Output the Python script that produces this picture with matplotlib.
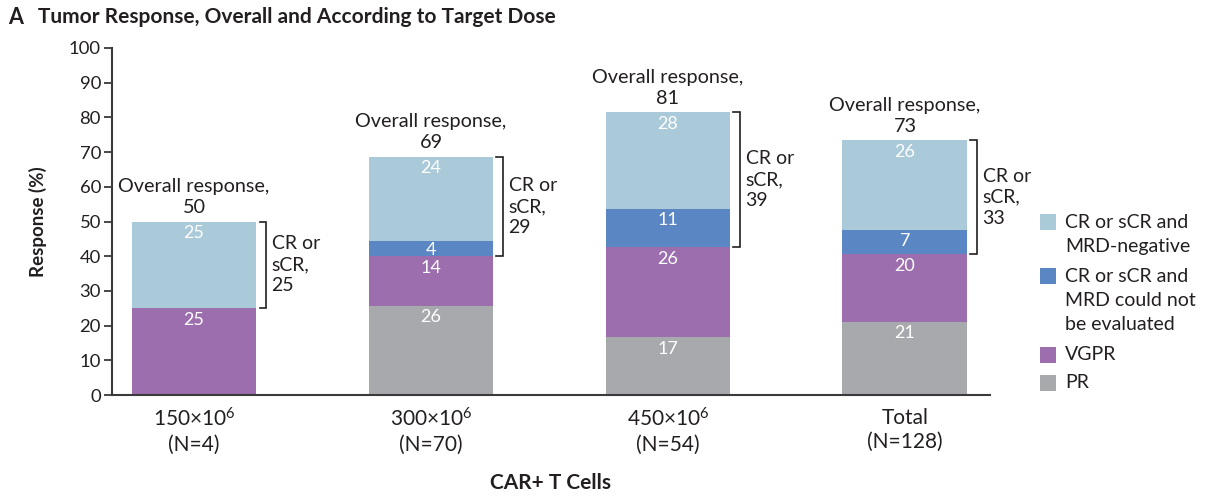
import matplotlib
matplotlib.use("Agg")
import matplotlib.pyplot as plt
from matplotlib.patches import Rectangle
import numpy as np

plt.rcParams['font.family'] = ['Lato', 'DejaVu Sans']
plt.rcParams['mathtext.fontset'] = 'custom'
plt.rcParams['mathtext.rm'] = 'Lato'
plt.rcParams['mathtext.it'] = 'Lato'
plt.rcParams['mathtext.bf'] = 'Lato:bold'
plt.rcParams['mathtext.default'] = 'regular'

categories = ["150×10$^{6}$\n(N=4)", "300×10$^{6}$\n(N=70)", "450×10$^{6}$\n(N=54)", "Total\n(N=128)"]
pr = [0.0, 25.7, 16.7, 21.1]
vgpr = [25.0, 14.3, 25.9, 19.5]
cr_unknown = [0.0, 4.3, 11.1, 7.0]
cr_neg = [25.0, 24.3, 27.8, 25.8]
pr_labels = ["", "26", "17", "21"]
vgpr_labels = ["25", "14", "26", "20"]
cr_unknown_labels = ["", "4", "11", "7"]
cr_neg_labels = ["25", "24", "28", "26"]
overall = ["50", "69", "81", "73"]
cr_total = ["25", "29", "39", "33"]

series_names = ["CR or sCR and\nMRD-negative", "CR or sCR and\nMRD could not\nbe evaluated", "VGPR", "PR"]
colors = {"neg": "#aac9d9", "unk": "#5b86c4", "vgpr": "#9d6eae", "pr": "#a7a9ad"}
txt = "#231f20"

W, H = 1221, 499
fig = plt.figure(figsize=(W/100, H/100), dpi=100)
ax = fig.add_axes([112/W, 1-395/H, (990-112)/W, (395-48)/H])

x = np.arange(len(categories))
w = 0.527
stack = [(pr, pr_labels, colors["pr"]), (vgpr, vgpr_labels, colors["vgpr"]),
         (cr_unknown, cr_unknown_labels, colors["unk"]), (cr_neg, cr_neg_labels, colors["neg"])]
bottom = np.zeros(len(categories))
for vals, labs, c in stack:
    vals = np.array(vals)
    ax.bar(x, vals, w, bottom=bottom, color=c, edgecolor='none')
    for i in range(len(x)):
        if vals[i] > 0:
            top = bottom[i] + vals[i]
            off = 1.0 if vals[i] > 6 else 0.3
            ax.text(x[i], top - off, labs[i], ha='center', va='top', color='white', fontsize=13)
    bottom = bottom + vals

tops = bottom
cr_start = np.array(pr) + np.array(vgpr)
for i in range(len(x)):
    ax.text(x[i], tops[i] + 1.6, "Overall response,\n" + overall[i], ha='center', va='bottom',
            color=txt, fontsize=14.3, linespacing=1.28)
    xe = x[i] + w/2
    x0 = xe + 0.013
    x1 = xe + 0.042
    ax.plot([x0, x1, x1, x0], [tops[i], tops[i], cr_start[i], cr_start[i]], color=txt, lw=1.2,
            solid_joinstyle='miter', clip_on=False)
    ax.text(xe + 0.064, (tops[i] + cr_start[i]) / 2, "CR or\nsCR,\n" + cr_total[i], ha='left', va='center',
            color=txt, fontsize=14, linespacing=1.28)

ax.set_xlim(-0.346, 3.359)
ax.set_ylim(0, 100)
ax.set_yticks(np.arange(0, 101, 10))
ax.set_xticks(x)
ax.set_xticklabels(categories, fontsize=15, color=txt, linespacing=1.25)
ax.tick_params(axis='x', length=0, pad=9)
ax.tick_params(axis='y', length=6, width=1.3, color='#3a3a3a', labelsize=13.3, labelcolor=txt, pad=2)
for s in ['top', 'right']:
    ax.spines[s].set_visible(False)
for s in ['left', 'bottom']:
    ax.spines[s].set_color('#3a3a3a')
    ax.spines[s].set_linewidth(1.5)

ax.set_ylabel("Response (%)", fontsize=13.5, fontweight='bold', color=txt, labelpad=16)
fig.text(551/W, 1-483/H, "CAR+ T Cells", ha='center', va='center', fontsize=15,
         fontweight='bold', color=txt)
fig.text(8/W, 1-17/H, "A", ha='left', va='center', fontsize=15.5, fontweight='bold', color=txt)
fig.text(38/W, 1-17/H, "Tumor Response, Overall and According to Target Dose", ha='left',
         va='center', fontsize=15, fontweight='bold', color=txt)

# legend (handles aligned with the first line of each label)
leg_colors = [colors["neg"], colors["unk"], colors["vgpr"], colors["pr"]]
first_line_y = [222, 276, 355, 383]
line_step = 24
for c, name, y0 in zip(leg_colors, series_names, first_line_y):
    fig.add_artist(Rectangle((1040/W, 1-(y0+8)/H), 16/W, 16/H, transform=fig.transFigure,
                             facecolor=c, edgecolor='none'))
    for k, line in enumerate(name.split("\n")):
        fig.text(1065/W, 1-(y0 + k*line_step)/H, line, ha='left', va='center', fontsize=14,
                 color=txt)

fig.savefig("out.png", dpi=100)
